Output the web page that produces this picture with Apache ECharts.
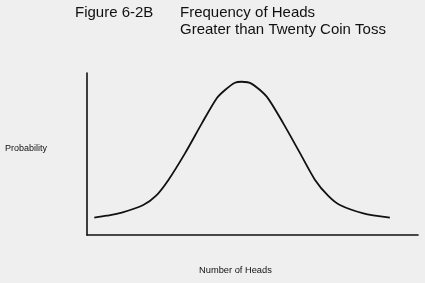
<!DOCTYPE html>
<html>
<head>
<meta charset="utf-8">
<script src="https://cdn.jsdelivr.net/npm/echarts@6/dist/echarts.min.js"></script>
<style>html,body{margin:0;padding:0;background:#efefef;}#c{width:425px;height:283px;}</style>
</head>
<body>
<div id="c"></div>
<script>
// Number of heads (relative position along the axis, 0-100)
const headsX = [2.2, 6.0, 10.5, 17.0, 20.8, 24.6, 29.6, 34.7, 39.2, 41.7, 44.7, 46.7, 49.8, 54.3, 59.3, 64.4, 68.9, 72.9, 76.4, 83.5, 91.5];
// Probability (relative, 0-100)
const probY = [10.7, 11.9, 13.8, 18.5, 24.1, 34.0, 50.4, 68.9, 84.4, 89.5, 94.0, 94.6, 93.3, 85.4, 68.9, 50.4, 34.0, 24.1, 18.5, 13.4, 10.7];

const titleLeft = 'Figure 6-2B';
const titleRight1 = 'Frequency of Heads';
const titleRight2 = 'Greater than Twenty Coin Toss';
const yName = 'Probability';
const xName = 'Number of Heads';

const font = '"Liberation Sans", Arial, sans-serif';
const chart = echarts.init(document.getElementById('c'), null, {renderer: 'canvas'});
chart.setOption({
  backgroundColor: '#efefef',
  animation: false,
  grid: {left: 87, right: 7, top: 73, bottom: 48},
  xAxis: {
    type: 'value', min: 0, max: 100,
    axisLine: {show: true, lineStyle: {color: '#111', width: 1.6}},
    axisTick: {show: false}, axisLabel: {show: false}, splitLine: {show: false}
  },
  yAxis: {
    type: 'value', min: 0, max: 100,
    axisLine: {show: true, lineStyle: {color: '#111', width: 1.6}},
    axisTick: {show: false}, axisLabel: {show: false}, splitLine: {show: false}
  },
  series: [{
    type: 'line',
    data: headsX.map((x, i) => [x, probY[i]]),
    showSymbol: false,
    smooth: 0.25,
    lineStyle: {color: '#111', width: 1.8}
  }],
  graphic: [
    {type: 'text', left: 75, top: 5, style: {text: titleLeft, font: '15px ' + font, fill: '#111'}},
    {type: 'text', left: 180, top: 5, style: {text: titleRight1, font: '15px ' + font, fill: '#111'}},
    {type: 'text', left: 180, top: 22, style: {text: titleRight2, font: '15px ' + font, fill: '#111'}},
    {type: 'text', left: 5, top: 144, style: {text: yName, font: '9px ' + font, fill: '#111'}},
    {type: 'text', left: 199, top: 266, style: {text: xName, font: '9.3px ' + font, fill: '#111'}}
  ]
});
</script>
</body>
</html>
